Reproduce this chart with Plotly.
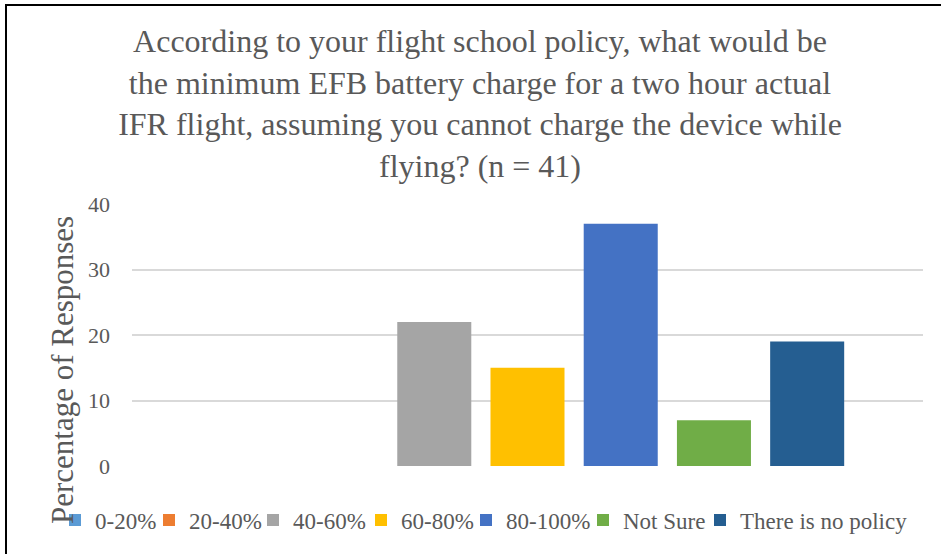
import plotly.graph_objects as go

# Survey answers and their share of responses (%)
answers = ["0-20%", "20-40%", "40-60%", "60-80%", "80-100%", "Not Sure", "There is no policy"]
percent = [0, 0, 22, 15, 37, 7, 19]
colors = ["#5B9BD5", "#ED7D31", "#A5A5A5", "#FFC000", "#4472C4", "#70AD47", "#255E91"]
y_ticks = [0, 10, 20, 30, 40]

W, H = 941, 554
ML, MR, MT, MB = 132, 18, 204, 88
PW, PH = W - ML - MR, H - MT - MB

SERIF = "Liberation Serif, Times New Roman, serif"
GREY = "#595959"

# horizontal pixel centre of each legend key (keys sit in one row under the plot)
key_centres = [75, 169, 273, 381, 486, 603, 720]


def px_x(p):
    return (p - ML) / PW


def px_y(p):
    return (H - MB - p) / PH


fig = go.Figure()
legends = {}
for i, (name, val, col) in enumerate(zip(answers, percent, colors)):
    lg = "legend" if i == 0 else f"legend{i + 1}"
    fig.add_trace(go.Bar(x=["Minimum charge"], y=[val], name=name, legend=lg,
                         showlegend=True,
                         marker=dict(color=col, line=dict(width=0))))
    legends[lg] = dict(orientation="h", xref="container", yref="container",
                       x=(key_centres[i] - 20) / W, xanchor="left",
                       y=1 - 520 / H, yanchor="middle", itemwidth=30,
                       font=dict(family=SERIF, size=23, color=GREY),
                       bgcolor="rgba(0,0,0,0)")

fig.update_layout(
    width=W, height=H,
    margin=dict(l=ML, r=MR, t=MT, b=MB),
    paper_bgcolor="white", plot_bgcolor="white",
    barmode="group", bargap=0.175, bargroupgap=0.206,
    title=dict(
        text="According to your flight school policy, what would be<br>"
             "the minimum EFB battery charge for a two hour actual<br>"
             "IFR flight, assuming you cannot charge the device while<br>"
             "flying? (n = 41)",
        x=480 / W, xanchor="center", xref="container",
        y=1 - 52 / H, yanchor="top", yref="container",
        font=dict(family=SERIF, size=32, color=GREY),
    ),
    xaxis=dict(showticklabels=False, showgrid=False, zeroline=False,
               showline=False, ticks=""),
    yaxis=dict(range=[0, 40], tickvals=y_ticks, showgrid=True,
               gridcolor="#D9D9D9", gridwidth=1.5, zeroline=False,
               showline=False, ticks="", ticklabelstandoff=21,
               tickfont=dict(family=SERIF, size=22, color=GREY)),
    annotations=[dict(text="Percentage of Responses", textangle=-90,
                      xref="paper", yref="paper", x=px_x(62), y=px_y(370),
                      xanchor="center", yanchor="middle", showarrow=False,
                      font=dict(family=SERIF, size=31, color=GREY))],
    shapes=[
        dict(type="line", xref="paper", yref="paper",
             x0=px_x(6), x1=px_x(6), y0=px_y(H + 5), y1=px_y(5),
             line=dict(color="black", width=2)),
        dict(type="line", xref="paper", yref="paper",
             x0=px_x(5), x1=px_x(W + 5), y0=px_y(5), y1=px_y(5),
             line=dict(color="black", width=2)),
    ],
    **legends,
)

fig.write_html("out.html")
